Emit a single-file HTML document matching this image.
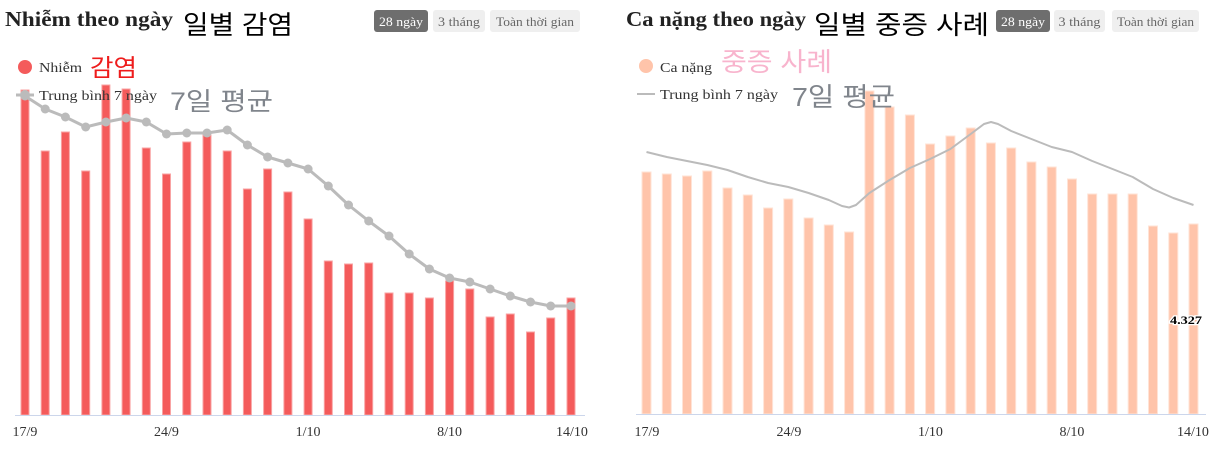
<!DOCTYPE html>
<html><head><meta charset="utf-8"><style>
html,body{margin:0;padding:0;background:#fff;width:1215px;height:449px;overflow:hidden}
svg{display:block}
.t{font-family:"Liberation Serif",serif}
.k{font-family:"Liberation Sans","Noto Sans CJK KR",sans-serif}
</style></head><body>
<svg width="1215" height="449" viewBox="0 0 1215 449" xmlns="http://www.w3.org/2000/svg">
<!-- LEFT CHART -->
<g fill="#f45b5b" stroke="#f9a3a3" stroke-width="1">
<rect x="21" y="90" width="8" height="325"/>
<rect x="41.2" y="151" width="8" height="264"/>
<rect x="61.4" y="132" width="8" height="283"/>
<rect x="81.7" y="171" width="8" height="244"/>
<rect x="101.9" y="85" width="8" height="330"/>
<rect x="122.1" y="89" width="8" height="326"/>
<rect x="142.3" y="148" width="8" height="267"/>
<rect x="162.5" y="174" width="8" height="241"/>
<rect x="182.8" y="142" width="8" height="273"/>
<rect x="203" y="135" width="8" height="280"/>
<rect x="223.2" y="151" width="8" height="264"/>
<rect x="243.4" y="189" width="8" height="226"/>
<rect x="263.6" y="169" width="8" height="246"/>
<rect x="283.9" y="192" width="8" height="223"/>
<rect x="304.1" y="219" width="8" height="196"/>
<rect x="324.3" y="261" width="8" height="154"/>
<rect x="344.5" y="264" width="8" height="151"/>
<rect x="364.7" y="263" width="8" height="152"/>
<rect x="385" y="293" width="8" height="122"/>
<rect x="405.2" y="293" width="8" height="122"/>
<rect x="425.4" y="298" width="8" height="117"/>
<rect x="445.6" y="281" width="8" height="134"/>
<rect x="465.8" y="289" width="8" height="126"/>
<rect x="486.1" y="317" width="8" height="98"/>
<rect x="506.3" y="314" width="8" height="101"/>
<rect x="526.5" y="332" width="8" height="83"/>
<rect x="546.7" y="318" width="8" height="97"/>
<rect x="567" y="298" width="8" height="117"/>
</g>
<line x1="15" y1="415.5" x2="585" y2="415.5" stroke="#ccd6eb" stroke-width="1"/>
<polyline fill="none" stroke="#bbbbbb" stroke-width="3" stroke-linejoin="round" points="25,96 45.2,109 65.4,117 85.7,127 105.9,122 126.1,118 146.3,122 166.5,134 186.8,133 207,133 227.2,130 247.4,145 267.6,157 287.9,163 308.1,169 328.3,186 348.5,205 368.7,221 389,236 409.2,254 429.4,269 449.6,278 469.8,282 490.1,289 510.3,296 530.5,302 550.7,306 571,306"/>
<g fill="#bbbbbb">
<circle cx="25" cy="96" r="4.5"/><circle cx="45.2" cy="109" r="4.5"/><circle cx="65.4" cy="117" r="4.5"/><circle cx="85.7" cy="127" r="4.5"/><circle cx="105.9" cy="122" r="4.5"/><circle cx="126.1" cy="118" r="4.5"/><circle cx="146.3" cy="122" r="4.5"/><circle cx="166.5" cy="134" r="4.5"/><circle cx="186.8" cy="133" r="4.5"/><circle cx="207" cy="133" r="4.5"/><circle cx="227.2" cy="130" r="4.5"/><circle cx="247.4" cy="145" r="4.5"/><circle cx="267.6" cy="157" r="4.5"/><circle cx="287.9" cy="163" r="4.5"/><circle cx="308.1" cy="169" r="4.5"/><circle cx="328.3" cy="186" r="4.5"/><circle cx="348.5" cy="205" r="4.5"/><circle cx="368.7" cy="221" r="4.5"/><circle cx="389" cy="236" r="4.5"/><circle cx="409.2" cy="254" r="4.5"/><circle cx="429.4" cy="269" r="4.5"/><circle cx="449.6" cy="278" r="4.5"/><circle cx="469.8" cy="282" r="4.5"/><circle cx="490.1" cy="289" r="4.5"/><circle cx="510.3" cy="296" r="4.5"/><circle cx="530.5" cy="302" r="4.5"/><circle cx="550.7" cy="306" r="4.5"/><circle cx="571" cy="306" r="4.5"/>
</g>
<g class="t" font-size="14" fill="#333" text-anchor="middle">
<text x="25" y="436">17/9</text>
<text x="166.5" y="436">24/9</text>
<text x="308.1" y="436">1/10</text>
<text x="449.6" y="436">8/10</text>
<text x="572" y="436">14/10</text>
</g>
<!-- left header -->
<text class="t" x="5" y="26" font-size="21" font-weight="bold" fill="#222" textLength="168" lengthAdjust="spacingAndGlyphs">Nhiễm theo ngày</text>
<text class="k" x="183" y="34" font-size="26" fill="#000" textLength="110" lengthAdjust="spacingAndGlyphs">일별 감염</text>
<rect x="374" y="10" width="54" height="22" rx="3" fill="#6e6e6e"/>
<text class="t" x="401" y="26" font-size="13" fill="#fff" text-anchor="middle" textLength="44" lengthAdjust="spacingAndGlyphs">28 ngày</text>
<rect x="433" y="10" width="52" height="22" rx="3" fill="#efefef"/>
<text class="t" x="459" y="26" font-size="13" fill="#666" text-anchor="middle" textLength="42" lengthAdjust="spacingAndGlyphs">3 tháng</text>
<rect x="490" y="10" width="90" height="22" rx="3" fill="#efefef"/>
<text class="t" x="535" y="26" font-size="13" fill="#666" text-anchor="middle" textLength="78" lengthAdjust="spacingAndGlyphs">Toàn thời gian</text>
<!-- left legend -->
<circle cx="25" cy="67" r="7" fill="#f45b5b"/>
<text class="t" x="39" y="72" font-size="14" fill="#333" textLength="43" lengthAdjust="spacingAndGlyphs">Nhiễm</text>
<text class="k" x="90" y="76" font-size="24" fill="#ee1c1c" textLength="47" lengthAdjust="spacingAndGlyphs">감염</text>
<line x1="16" y1="95" x2="34" y2="95" stroke="#bbb" stroke-width="3"/>
<circle cx="25" cy="95" r="5" fill="#bbb"/>
<text class="t" x="39" y="100" font-size="14" fill="#333" textLength="118" lengthAdjust="spacingAndGlyphs">Trung bình 7 ngày</text>
<text class="k" x="170" y="110" font-size="25" fill="#80858c" textLength="103" lengthAdjust="spacingAndGlyphs">7일 평균</text>

<!-- RIGHT CHART -->
<g fill="#ffc4aa" stroke="#ffe3d6" stroke-width="1">
<rect x="642" y="172" width="9" height="242"/>
<rect x="662.3" y="174" width="9" height="240"/>
<rect x="682.5" y="176" width="9" height="238"/>
<rect x="702.8" y="171" width="9" height="243"/>
<rect x="723" y="188" width="9" height="226"/>
<rect x="743.3" y="195" width="9" height="219"/>
<rect x="763.6" y="208" width="9" height="206"/>
<rect x="783.8" y="199" width="9" height="215"/>
<rect x="804.1" y="218" width="9" height="196"/>
<rect x="824.3" y="225" width="9" height="189"/>
<rect x="844.6" y="232" width="9" height="182"/>
<rect x="864.9" y="91" width="9" height="323"/>
<rect x="885.1" y="107" width="9" height="307"/>
<rect x="905.4" y="115" width="9" height="299"/>
<rect x="925.6" y="144" width="9" height="270"/>
<rect x="945.9" y="136" width="9" height="278"/>
<rect x="966.2" y="128" width="9" height="286"/>
<rect x="986.4" y="143" width="9" height="271"/>
<rect x="1006.7" y="148" width="9" height="266"/>
<rect x="1026.9" y="162" width="9" height="252"/>
<rect x="1047.2" y="167" width="9" height="247"/>
<rect x="1067.5" y="179" width="9" height="235"/>
<rect x="1087.7" y="194" width="9" height="220"/>
<rect x="1108" y="194" width="9" height="220"/>
<rect x="1128.2" y="194" width="9" height="220"/>
<rect x="1148.5" y="226" width="9" height="188"/>
<rect x="1168.8" y="233" width="9" height="181"/>
<rect x="1189" y="224" width="9" height="190"/>
</g>
<line x1="636" y1="414.5" x2="1206" y2="414.5" stroke="#ccd6eb" stroke-width="1"/>
<polyline fill="none" stroke="#bbbbbb" stroke-width="2" stroke-linejoin="round" points="646.5,152 666.8,157 687,161 707.3,165 727.5,170 747.8,177 768.1,183 788.3,187 808.6,193 828.8,200 842,206 849.1,207.5 856,205 869.4,193 889.6,180 909.9,168 930.1,159 950.4,149 970.7,134 984,124 991,122 998,124 1011.2,131 1031.4,139 1051.7,147 1072,152 1092.2,161 1112.5,169 1132.7,177 1153,189 1173.3,198 1193.5,205"/>
<text class="t" x="1202" y="324" font-size="12" font-weight="bold" fill="#000" stroke="#fff" stroke-width="2.5" paint-order="stroke" text-anchor="end" textLength="32" lengthAdjust="spacingAndGlyphs">4.327</text>
<g class="t" font-size="14" fill="#333" text-anchor="middle">
<text x="647" y="436">17/9</text>
<text x="789" y="436">24/9</text>
<text x="930.5" y="436">1/10</text>
<text x="1072" y="436">8/10</text>
<text x="1193" y="436">14/10</text>
</g>
<!-- right header -->
<text class="t" x="626" y="26" font-size="21" font-weight="bold" fill="#222" textLength="180" lengthAdjust="spacingAndGlyphs">Ca nặng theo ngày</text>
<text class="k" x="814" y="34" font-size="26" fill="#000" textLength="175" lengthAdjust="spacingAndGlyphs">일별 중증 사례</text>
<rect x="996" y="10" width="54" height="22" rx="3" fill="#6e6e6e"/>
<text class="t" x="1023" y="26" font-size="13" fill="#fff" text-anchor="middle" textLength="44" lengthAdjust="spacingAndGlyphs">28 ngày</text>
<rect x="1054" y="10" width="51" height="22" rx="3" fill="#efefef"/>
<text class="t" x="1079.5" y="26" font-size="13" fill="#666" text-anchor="middle" textLength="42" lengthAdjust="spacingAndGlyphs">3 tháng</text>
<rect x="1112" y="10" width="87" height="22" rx="3" fill="#efefef"/>
<text class="t" x="1155.5" y="26" font-size="13" fill="#666" text-anchor="middle" textLength="77" lengthAdjust="spacingAndGlyphs">Toàn thời gian</text>
<!-- right legend -->
<circle cx="646" cy="66" r="7" fill="#ffc4aa"/>
<text class="t" x="660" y="72" font-size="14" fill="#333" textLength="52" lengthAdjust="spacingAndGlyphs">Ca nặng</text>
<text class="k" x="721" y="71" font-size="26" fill="#f8b4cd" textLength="111" lengthAdjust="spacingAndGlyphs">중증 사례</text>
<line x1="637" y1="94" x2="655" y2="94" stroke="#bbb" stroke-width="2"/>
<text class="t" x="660" y="99" font-size="14" fill="#333" textLength="118" lengthAdjust="spacingAndGlyphs">Trung bình 7 ngày</text>
<text class="k" x="792" y="106" font-size="26" fill="#80858c" textLength="103" lengthAdjust="spacingAndGlyphs">7일 평균</text>
</svg>
</body></html>
